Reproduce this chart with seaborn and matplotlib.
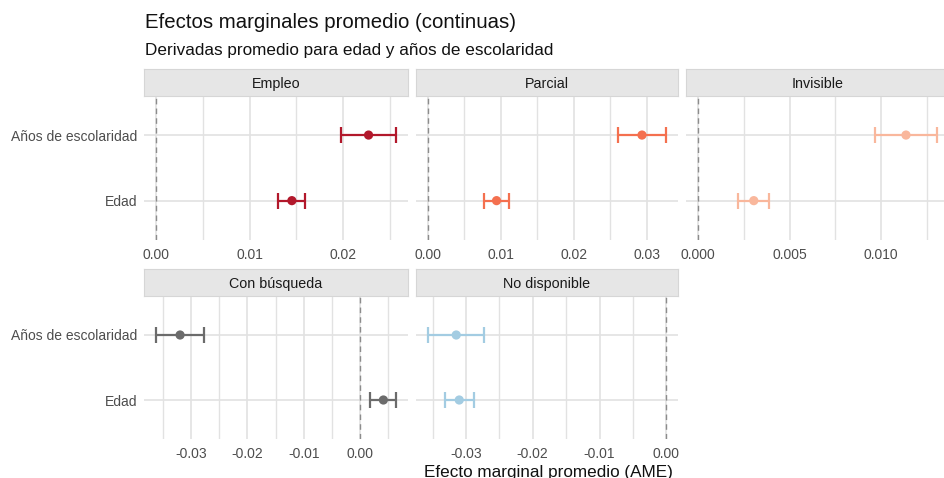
import numpy as np
import pandas as pd
import matplotlib
matplotlib.use("Agg")
import matplotlib.pyplot as plt
from matplotlib.ticker import MultipleLocator, FormatStrFormatter
import seaborn as sns

# Valores
categorias = ["Empleo", "Parcial", "Invisible", "Con búsqueda", "No disponible"]
variables = ["Edad", "Años de escolaridad"]

ame_edad = [0.01451, 0.00944, 0.00304, 0.00417, -0.03100]
lo_edad = [0.01308, 0.00770, 0.00218, 0.00178, -0.03320]
hi_edad = [0.01594, 0.01117, 0.00388, 0.00636, -0.02886]

ame_esc = [0.02270, 0.02936, 0.01137, -0.03196, -0.03145]
lo_esc = [0.01980, 0.02608, 0.00967, -0.03624, -0.03573]
hi_esc = [0.02560, 0.03270, 0.01307, -0.02763, -0.02722]

colores = ["#B2182B", "#F4704F", "#F9B79C", "#6B6B6B", "#A3CCE2"]

rows = []
for i, cat in enumerate(categorias):
    rows.append((cat, variables[0], ame_edad[i], lo_edad[i], hi_edad[i]))
    rows.append((cat, variables[1], ame_esc[i], lo_esc[i], hi_esc[i]))
df = pd.DataFrame(rows, columns=["categoria", "variable", "ame", "lo", "hi"])
df["ypos"] = df["variable"].map({v: i for i, v in enumerate(variables)})

sns.set_theme(style="white")
plt.rcParams["font.family"] = ["Liberation Sans", "DejaVu Sans"]

W, H = 944, 478
fig = plt.figure(figsize=(W / 100, H / 100), dpi=100)


def rect(x0, y0, x1, y1):
    return [x0 / W, 1 - y1 / H, (x1 - x0) / W, (y1 - y0) / H]


cols_x = [(144, 407.7), (415.7, 678.3), (686.3, 949)]
rows_y = [((69.3, 95.7), (95.7, 240)), ((269.3, 296), (296, 439))]
ticks = {
    "Empleo": (0.01, 0.005, "%.2f"),
    "Parcial": (0.01, 0.005, "%.2f"),
    "Invisible": (0.005, 0.0025, "%.3f"),
    "Con búsqueda": (0.01, 0.005, "%.2f"),
    "No disponible": (0.01, 0.005, "%.2f"),
}

for i, cat in enumerate(categorias):
    r, c = divmod(i, 3)
    (sy0, sy1), (py0, py1) = rows_y[r]
    x0, x1 = cols_x[c]
    ax = fig.add_axes(rect(x0, py0, x1, py1))
    sax = fig.add_axes(rect(x0, sy0, x1, sy1))
    sax.set_facecolor("#E6E6E6")
    sax.set_xticks([])
    sax.set_yticks([])
    for s in sax.spines.values():
        s.set_color("#D6D6D6")
        s.set_linewidth(0.8)
    sax.text(0.5, 0.5, cat, ha="center", va="center_baseline", fontsize=10.3,
             color="#1A1A1A", transform=sax.transAxes)

    sub = df[df["categoria"] == cat]
    col = colores[i]
    ax.errorbar(sub["ame"], sub["ypos"],
                xerr=[sub["ame"] - sub["lo"], sub["hi"] - sub["ame"]],
                fmt="none", ecolor=col, elinewidth=1.6, capsize=6,
                capthick=1.6, zorder=3)
    sns.scatterplot(data=sub, x="ame", y="ypos", color=col, s=44,
                    edgecolor="none", ax=ax, zorder=4, legend=False)
    ax.axvline(0, color="#8C8C8C", ls=(0, (4, 3)), lw=1.0, zorder=2)

    lo = min(0, sub["lo"].min())
    hi = max(0, sub["hi"].max())
    pad = (hi - lo) * 0.05
    ax.set_xlim(lo - pad, hi + pad)
    ax.set_ylim(-0.6, 1.6)

    major, minor, fmt = ticks[cat]
    ax.xaxis.set_major_locator(MultipleLocator(major))
    ax.xaxis.set_minor_locator(MultipleLocator(minor))
    ax.xaxis.set_major_formatter(FormatStrFormatter(fmt))
    ax.set_yticks(range(len(variables)))
    if c == 0:
        ax.set_yticklabels(variables)
    else:
        ax.set_yticklabels([])
    ax.set_xlabel("")
    ax.set_ylabel("")
    ax.tick_params(axis="both", which="both", length=0, labelsize=10,
                   labelcolor="#4D4D4D", pad=5)
    ax.tick_params(axis="x", pad=6)
    ax.grid(which="major", color="#E2E2E2", lw=1.2)
    ax.grid(which="minor", axis="x", color="#E2E2E2", lw=1.0)
    ax.set_axisbelow(True)
    ax.set_facecolor("white")
    for s in ax.spines.values():
        s.set_visible(False)

fig.text(145 / W, 1 - 23 / H, "Efectos marginales promedio (continuas)",
         fontsize=14.7, va="center", ha="left", color="#111111")
fig.text(145 / W, 1 - 50 / H, "Derivadas promedio para edad y años de escolaridad",
         fontsize=12.3, va="center", ha="left", color="#111111")
fig.text(548 / W, 1 - 472 / H, "Efecto marginal promedio (AME)",
         fontsize=12.3, va="center", ha="center", color="#111111")

fig.savefig("out.png", dpi=100)
